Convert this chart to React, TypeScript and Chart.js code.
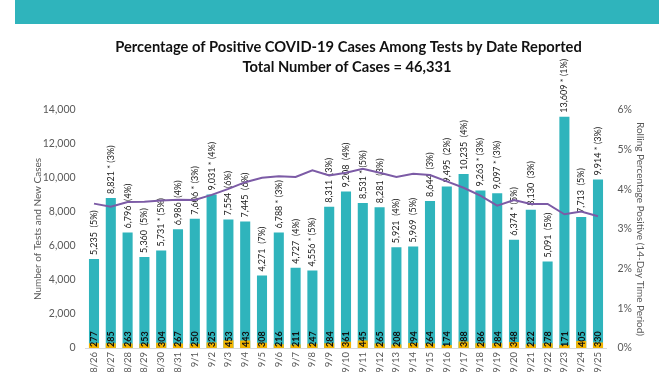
import React, { useEffect, useRef } from "react";
import { Chart, registerables } from "chart.js";

Chart.register(...registerables);

const dates = ["8/26","8/27","8/28","8/29","8/30","8/31","9/1","9/2","9/3","9/4","9/5","9/6","9/7","9/8","9/9","9/10","9/11","9/12","9/13","9/14","9/15","9/16","9/17","9/18","9/19","9/20","9/21","9/22","9/23","9/24","9/25"];
const tests = [5235, 8821, 6796, 5360, 5731, 6986, 7606, 9031, 7554, 7445, 4271, 6788, 4727, 4556, 8311, 9208, 8531, 8281, 5921, 5969, 8644, 9495, 10235, 9263, 9097, 6374, 8130, 5091, 13609, 7713, 9914];
const cases = [277, 285, 263, 253, 304, 267, 250, 325, 453, 443, 308, 216, 211, 247, 284, 361, 445, 265, 208, 294, 264, 174, 388, 286, 284, 348, 222, 278, 171, 405, 330];
const dailyPct = [5, 3, 4, 5, 5, 4, 3, 4, 6, 6, 7, 3, 4, 5, 3, 4, 5, 3, 4, 5, 3, 2, 4, 3, 3, 5, 3, 5, 1, 5, 3];
const starred = [false, true, false, false, true, false, true, true, false, false, false, true, false, true, false, false, true, false, false, false, false, false, false, true, true, true, false, false, true, false, true];
const rolling = [3.64, 3.56, 3.68, 3.69, 3.72, 3.74, 3.73, 3.86, 4.01, 4.18, 4.29, 4.33, 4.31, 4.48, 4.35, 4.42, 4.52, 4.42, 4.31, 4.39, 4.36, 4.2, 4.04, 3.84, 3.59, 3.73, 3.63, 3.63, 3.37, 3.44, 3.32];

const titleLines = ["Percentage of Positive COVID-19 Cases Among Tests by Date Reported", "Total Number of Cases = 46,331"];
const leftAxisTitle = "Number of Tests and New Cases";
const rightAxisTitle = "Rolling Percentage Positive (14-Day Time Period)";

const TEAL = "#2fb4bc";
const YELLOW = "#f4b400";
const PURPLE = "#7c5ba6";
const AXIS_TEXT = "#595959";
const FONT = "Lato, 'Open Sans', sans-serif";

const overlayPlugin = {
  id: "overlay",
  beforeDraw(chart: any) {
    const ctx = chart.ctx;
    ctx.save();
    ctx.fillStyle = "#ffffff";
    ctx.fillRect(0, 0, chart.width, chart.height);
    ctx.fillStyle = TEAL;
    ctx.fillRect(15, 0, 644, 24);
    ctx.restore();
  },
  beforeDatasetDraw(chart: any, args: any) {
    if (args.index !== 2) return;
    const ctx = chart.ctx;
    const zeroY = chart.scales.y.getPixelForValue(0);
    const testsMeta = chart.getDatasetMeta(0);
    testsMeta.data.forEach((bar: any, i: number) => {
      const label = tests[i].toLocaleString("en-US") + (starred[i] ? " * " : "  ") + "(" + dailyPct[i] + "%)";
      ctx.save();
      ctx.translate(bar.x, bar.y - 4);
      ctx.rotate(-Math.PI / 2);
      ctx.font = "9px " + FONT;
      ctx.fillStyle = "#1a1a1a";
      ctx.textAlign = "left";
      ctx.textBaseline = "middle";
      ctx.fillText(label, 0, 0);
      ctx.restore();
    });
    const casesMeta = chart.getDatasetMeta(1);
    casesMeta.data.forEach((bar: any, i: number) => {
      ctx.save();
      ctx.translate(bar.x, zeroY - 1);
      ctx.rotate(-Math.PI / 2);
      ctx.font = "bold 9px " + FONT;
      ctx.fillStyle = "#111111";
      ctx.textAlign = "left";
      ctx.textBaseline = "middle";
      ctx.fillText(String(cases[i]), 0, 0.5);
      ctx.restore();
    });
  },
  afterDraw(chart: any) {
    const ctx = chart.ctx;
    ctx.save();
    ctx.fillStyle = "#111111";
    ctx.textAlign = "center";
    ctx.textBaseline = "middle";
    ctx.font = "bold 14.7px " + FONT;
    ctx.fillText(titleLines[0], 348.5, 47);
    ctx.fillText(titleLines[1], 347, 67);
    ctx.restore();
  },
};

export default function App() {
  const ref = useRef<HTMLCanvasElement>(null);
  useEffect(() => {
    const canvas = ref.current;
    if (!canvas) return;
    const chart = new Chart(canvas, {
      type: "bar",
      data: {
        labels: dates,
        datasets: [
          {
            type: "bar",
            label: "Tests",
            data: tests,
            backgroundColor: TEAL,
            grouped: false,
            barPercentage: 0.6,
            categoryPercentage: 1,
            order: 2,
            yAxisID: "y",
          } as any,
          {
            type: "bar",
            label: "New Cases",
            data: cases,
            backgroundColor: YELLOW,
            grouped: false,
            barPercentage: 0.6,
            categoryPercentage: 1,
            order: 1,
            yAxisID: "y",
          } as any,
          {
            type: "line",
            label: "Rolling %",
            data: rolling,
            borderColor: PURPLE,
            borderWidth: 2,
            pointRadius: 0,
            tension: 0,
            order: 0,
            yAxisID: "y1",
          } as any,
        ],
      },
      options: {
        responsive: false,
        animation: false,
        devicePixelRatio: 1,
        layout: { padding: { top: 110, left: 0, right: 0, bottom: 0 } },
        plugins: {
          legend: { display: false },
          title: { display: false },
          tooltip: { enabled: false },
        },
        scales: {
          x: {
            type: "category",
            offset: true,
            grid: { display: false, drawTicks: false },
            border: { display: true, color: "#d9d9d9" },
            ticks: {
              autoSkip: false,
              minRotation: 90,
              maxRotation: 90,
              padding: 4,
              color: AXIS_TEXT,
              font: { family: FONT, size: 9.5 },
            },
            afterFit(scale: any) {
              scale.height = 24;
            },
          },
          y: {
            position: "left",
            min: 0,
            max: 14000,
            grid: { display: false, drawTicks: false },
            border: { display: false },
            ticks: {
              stepSize: 2000,
              padding: 10,
              color: AXIS_TEXT,
              font: { family: FONT, size: 10.5 },
              callback: (v: any) => Number(v).toLocaleString("en-US"),
            },
            title: {
              display: true,
              text: leftAxisTitle,
              color: AXIS_TEXT,
              font: { family: FONT, size: 10 },
              padding: { top: 31.5, bottom: 0 },
            },
            afterFit(scale: any) {
              scale.width = 85.6;
            },
          },
          y1: {
            position: "right",
            min: 0,
            max: 6,
            grid: { display: false, drawTicks: false },
            border: { display: false },
            ticks: {
              stepSize: 1,
              padding: 11,
              color: AXIS_TEXT,
              font: { family: FONT, size: 10.5 },
              callback: (v: any) => v + "%",
            },
            title: {
              display: true,
              text: rightAxisTitle,
              color: AXIS_TEXT,
              font: { family: FONT, size: 10 },
              padding: { top: 26, bottom: 0 },
            },
            afterFit(scale: any) {
              scale.width = 65.6;
            },
          },
        },
      } as any,
      plugins: [overlayPlugin],
    });
    return () => chart.destroy();
  }, []);

  return (
    <div style={{ position: "absolute", left: 0, top: 0, width: 672, height: 372, background: "#fff" }}>
      <canvas ref={ref} width={672} height={372} style={{ display: "block", width: 672, height: 372 }} />
    </div>
  );
}
